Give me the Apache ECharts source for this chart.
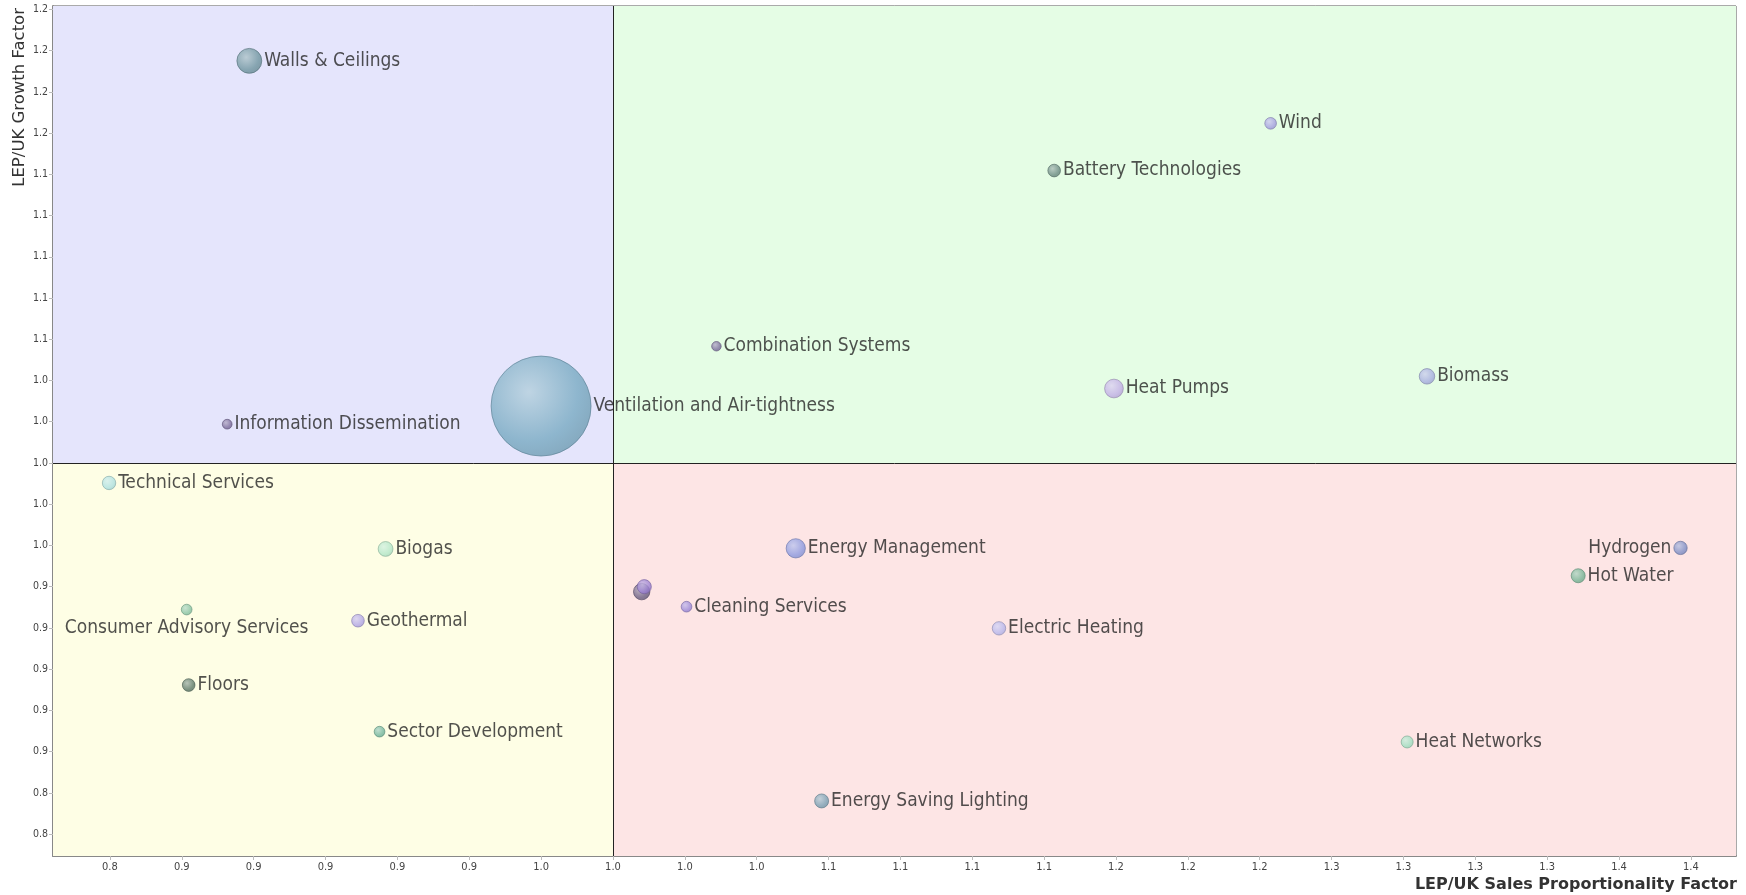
<!DOCTYPE html>
<html>
<head>
<meta charset="utf-8">
<script src="https://cdn.jsdelivr.net/npm/echarts@6/dist/echarts.min.js"></script>
<style>
html,body{margin:0;padding:0;background:#fff;}
#chart{width:1746px;height:895px;}
</style>
</head>
<body>
<div id="chart"></div>
<script>
// ---- data ----
const names = [
  'Walls & Ceilings','Wind','Battery Technologies','Combination Systems','Heat Pumps','Biomass',
  'Ventilation and Air-tightness','Information Dissemination','Technical Services','Biogas',
  'Consumer Advisory Services','Geothermal','Floors','Sector Development','Energy Management',
  '','','Cleaning Services','Electric Heating','Energy Saving Lighting','Hydrogen','Hot Water','Heat Networks'
];
const salesFactor = [
  0.8735, 1.2288, 1.1535, 1.0360, 1.1743, 1.2832,
  0.9750, 0.8658, 0.8247, 0.9209,
  0.8517, 0.9113, 0.8524, 0.9188, 1.0636,
  1.0100, 1.0109, 1.0256, 1.1343, 1.0726, 1.3714, 1.3358, 1.2763
];
const growthFactor = [
  1.1950, 1.1647, 1.1418, 1.0566, 1.0361, 1.0420,
  1.0276, 1.0188, 0.9903, 0.9583,
  0.9289, 0.9235, 0.8923, 0.8697, 0.9586,
  0.9376, 0.9400, 0.9303, 0.9198, 0.8361, 0.9588, 0.9453, 0.8647
];
const marketWeight = [
  6.2, 1.36, 1.6, 0.9, 3.5, 2.4,
  100, 0.95, 1.8, 2.2,
  1.14, 1.6, 1.6, 1.14, 3.7,
  2.7, 2.0, 1.14, 1.8, 1.96, 1.78, 1.96, 1.44
];
const xTickValues = [0.825,0.85,0.875,0.9,0.925,0.95,0.975,1.0,1.025,1.05,1.075,1.1,1.125,1.15,1.175,1.2,1.225,1.25,1.275,1.3,1.325,1.35,1.375];
const xTickLabels = ['0.8','0.9','0.9','0.9','0.9','0.9','1.0','1.0','1.0','1.0','1.1','1.1','1.1','1.1','1.2','1.2','1.2','1.3','1.3','1.3','1.3','1.4','1.4'];
const yTickValues = [0.82,0.84,0.86,0.88,0.90,0.92,0.94,0.96,0.98,1.00,1.02,1.04,1.06,1.08,1.10,1.12,1.14,1.16,1.18,1.20,1.22];
const yTickLabels = ['0.8','0.8','0.9','0.9','0.9','0.9','0.9','1.0','1.0','1.0','1.0','1.0','1.1','1.1','1.1','1.1','1.1','1.2','1.2','1.2','1.2'];
const xMin = 0.8052, xMax = 1.3907;
const yMin = 0.8094, yMax = 1.2216;
const quadrantSplit = 1.0;

// ---- styles ----
const bubbleColors = [
  '#6f959f', '#a49ee0', '#6b8a82', '#7a6c9c', '#c2aee6', '#a6acdf',
  '#78aac2', '#7a6a9a', '#ade0e0', '#b2e6c8',
  '#86c2a2', '#b0a4e6', '#5c7868', '#70b49c', '#8c9ae0',
  '#6a5e82', '#9a80d2', '#9a88d8', '#b6b6ec', '#789eb2', '#7e8ec6', '#74b494', '#9edec0'
];
const labelPos = {
  'Hydrogen': 'left',
  'Consumer Advisory Services': 'bottom'
};
const FONT = "'DejaVu Sans Condensed', 'DejaVu Sans', sans-serif";
const FONT_WIDE = "'DejaVu Sans', sans-serif";

function mix(hex, target, t) {
  const c = parseInt(hex.slice(1), 16);
  const r = (c >> 16) & 255, g = (c >> 8) & 255, b = c & 255;
  const tr = target === 'w' ? 255 : 0;
  const f = v => Math.round(v + (tr - v) * t);
  return 'rgb(' + f(r) + ',' + f(g) + ',' + f(b) + ')';
}
function bubbleFill(hex) {
  return new echarts.graphic.RadialGradient(0.38, 0.36, 0.75, [
    {offset: 0, color: mix(hex, 'w', 0.45)},
    {offset: 0.65, color: hex},
    {offset: 1, color: mix(hex, 'k', 0.12)}
  ]);
}

const bubbleData = names.map((n, i) => {
  const pos = labelPos[n] || 'right';
  return {
    name: n,
    value: [salesFactor[i], growthFactor[i], marketWeight[i]],
    itemStyle: {color: bubbleFill(bubbleColors[i]), borderColor: mix(bubbleColors[i], 'k', 0.25), borderWidth: 0.8},
    label: {
      show: n !== '',
      position: pos,
      distance: pos === 'bottom' ? 3 : 2
    }
  };
});

const chart = echarts.init(document.getElementById('chart'), null, {renderer: 'canvas'});
chart.setOption({
  animation: false,
  backgroundColor: '#ffffff',
  textStyle: {fontFamily: FONT},
  grid: {left: 53, right: 10, top: 6, bottom: 39, show: true, borderColor: '#555', borderWidth: 1, backgroundColor: 'transparent'},
  xAxis: {
    type: 'value', min: xMin, max: xMax,
    name: 'LEP/UK Sales Proportionality Factor',
    nameLocation: 'end', nameGap: 1,
    nameTextStyle: {fontFamily: FONT_WIDE, fontSize: 16, fontWeight: 'bold', color: '#333', align: 'right', verticalAlign: 'top', padding: [21, 0, 0, 0]},
    axisLine: {show: true, lineStyle: {color: '#888', width: 2}},
    axisTick: {show: true, length: 4, lineStyle: {color: '#bbb'}, customValues: xTickValues},
    axisLabel: {
      customValues: xTickValues, margin: 6, fontSize: 11, color: '#444', fontFamily: FONT,
      formatter: v => { const k = xTickValues.findIndex(t => Math.abs(t - v) < 1e-6); return k >= 0 ? xTickLabels[k] : ''; }
    },
    splitLine: {show: false}
  },
  yAxis: {
    type: 'value', min: yMin, max: yMax,
    axisLine: {show: true, lineStyle: {color: '#888', width: 2}},
    axisTick: {show: true, length: 4, lineStyle: {color: '#bbb'}, customValues: yTickValues},
    axisLabel: {
      customValues: yTickValues, margin: 5, fontSize: 10.5, color: '#444', fontFamily: FONT,
      formatter: v => { const k = yTickValues.findIndex(t => Math.abs(t - v) < 1e-6); return k >= 0 ? yTickLabels[k] : ''; }
    },
    splitLine: {show: false}
  },
  graphic: [{
    type: 'text', x: 20, y: 8, rotation: Math.PI / 2,
    style: {text: 'LEP/UK Growth Factor', fontFamily: FONT_WIDE, fontSize: 16.5, fill: '#333', align: 'right', verticalAlign: 'middle'}
  }],
  series: [
    {
      type: 'scatter', name: 'quadrants', data: [], z: 1, silent: true,
      markArea: {
        silent: true,
        data: [
          [{xAxis: xMin, yAxis: quadrantSplit, itemStyle: {color: '#e5e5fc'}}, {xAxis: quadrantSplit, yAxis: yMax}],
          [{xAxis: quadrantSplit, yAxis: quadrantSplit, itemStyle: {color: '#e5fde5'}}, {xAxis: xMax, yAxis: yMax}],
          [{xAxis: xMin, yAxis: yMin, itemStyle: {color: '#fefee5'}}, {xAxis: quadrantSplit, yAxis: quadrantSplit}],
          [{xAxis: quadrantSplit, yAxis: yMin, itemStyle: {color: '#fde5e5'}}, {xAxis: xMax, yAxis: quadrantSplit}]
        ]
      },
      markLine: {
        silent: true, symbol: 'none', label: {show: false},
        lineStyle: {color: '#222', width: 1, type: 'solid'},
        data: [{xAxis: quadrantSplit}, {yAxis: quadrantSplit}]
      }
    },
    {
      type: 'scatter', name: 'sectors', z: 3,
      symbolSize: v => 10 * Math.sqrt(v[2]),
      data: bubbleData,
      label: {formatter: '{b}', fontFamily: FONT, fontSize: 19, color: '#262626'},
      emphasis: {disabled: true}
    }
  ]
});
</script>
</body>
</html>
